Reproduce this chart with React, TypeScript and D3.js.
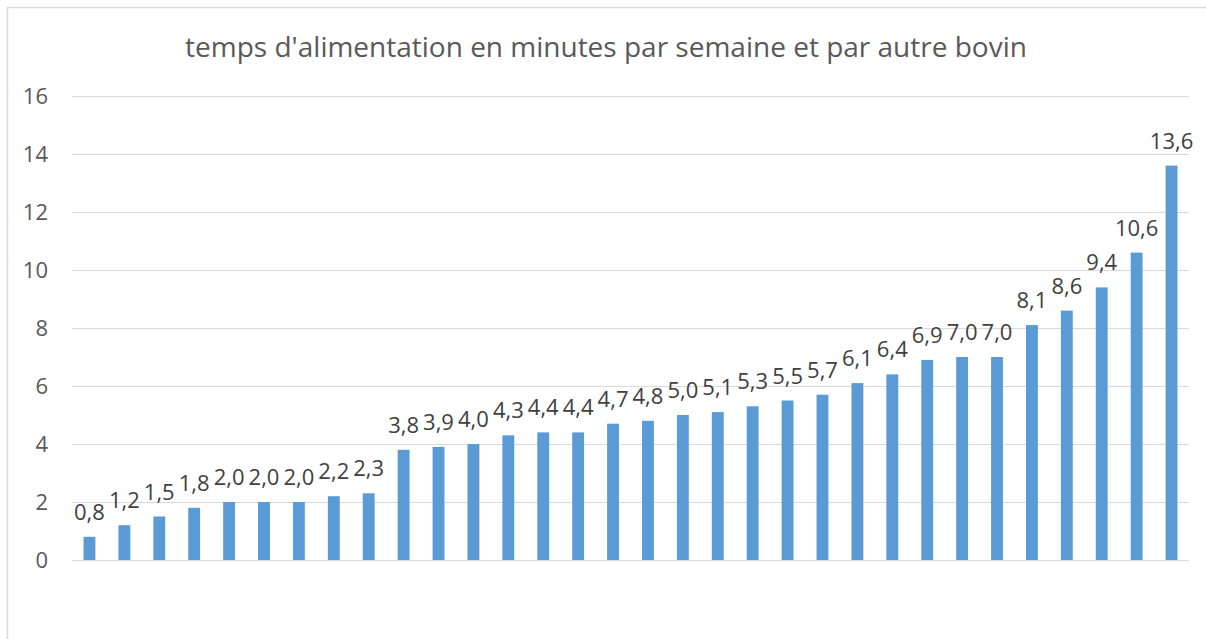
import { useEffect, useRef } from 'react';
import * as d3 from 'd3';

const title = "temps d'alimentation en minutes par semaine et par autre bovin";
const values = [
  0.8, 1.2, 1.5, 1.8, 2.0, 2.0, 2.0, 2.2, 2.3, 3.8, 3.9, 4.0, 4.3, 4.4, 4.4, 4.7,
  4.8, 5.0, 5.1, 5.3, 5.5, 5.7, 6.1, 6.4, 6.9, 7.0, 7.0, 8.1, 8.6, 9.4, 10.6, 13.6,
];
const categories = values.map((_, i) => String(i + 1));
const yTicks = [0, 2, 4, 6, 8, 10, 12, 14, 16];

const width = 1206;
const height = 639;
const font = "'Open Sans', sans-serif";
const textColor = '#595959';

function BarChart() {
  const svgRef = useRef<SVGSVGElement>(null);

  useEffect(() => {
    const svg = d3.select(svgRef.current);
    svg.selectAll('*').remove();

    const xScale = d3.scaleBand().domain(categories).range([72, 1189]).paddingInner(0.66).paddingOuter(0.33);
    const yScale = d3.scaleLinear().domain([0, 16]).range([560, 96]);

    // chart frame (left + top only are visible)
    svg.append('rect')
      .attr('x', 7.5).attr('y', 7.5)
      .attr('width', 1300).attr('height', 800)
      .attr('fill', '#fff').attr('stroke', '#d9d9d9').attr('stroke-width', 1.5);

    svg.append('text')
      .attr('x', 606).attr('y', 57)
      .attr('text-anchor', 'middle')
      .attr('font-family', font).attr('font-size', 28)
      .attr('fill', textColor)
      .text(title);

    const grid = svg.append('g');
    grid.selectAll('line')
      .data(yTicks)
      .enter()
      .append('line')
      .attr('x1', 72).attr('x2', 1189)
      .attr('y1', (d) => Math.round(yScale(d)) + 0.5)
      .attr('y2', (d) => Math.round(yScale(d)) + 0.5)
      .attr('stroke', '#d9d9d9').attr('stroke-width', 1.2);

    svg.append('g').selectAll('text')
      .data(yTicks)
      .enter()
      .append('text')
      .attr('x', 48).attr('y', (d) => yScale(d))
      .attr('dy', '0.36em')
      .attr('text-anchor', 'end')
      .attr('font-family', font).attr('font-size', 22)
      .attr('fill', textColor)
      .text((d) => d);

    svg.append('g').selectAll('rect')
      .data(values)
      .enter()
      .append('rect')
      .attr('x', (_, i) => xScale(categories[i]))
      .attr('width', xScale.bandwidth())
      .attr('y', (d) => yScale(d))
      .attr('height', (d) => yScale(0) - yScale(d))
      .attr('fill', '#5b9bd5');

    svg.append('g').selectAll('text')
      .data(values)
      .enter()
      .append('text')
      .attr('x', (_, i) => xScale(categories[i]) + xScale.bandwidth() / 2)
      .attr('y', (d) => yScale(d) - 17)
      .attr('text-anchor', 'middle')
      .attr('font-family', font).attr('font-size', 22)
      .attr('fill', '#404040')
      .text((d) => d.toFixed(1).replace('.', ','));
  }, []);

  return <svg ref={svgRef} width={width} height={height} style={{ display: 'block' }} />;
}

export default function App() {
  return (
    <div style={{ position: 'absolute', left: 0, top: 0 }}>
      <BarChart />
    </div>
  );
}
